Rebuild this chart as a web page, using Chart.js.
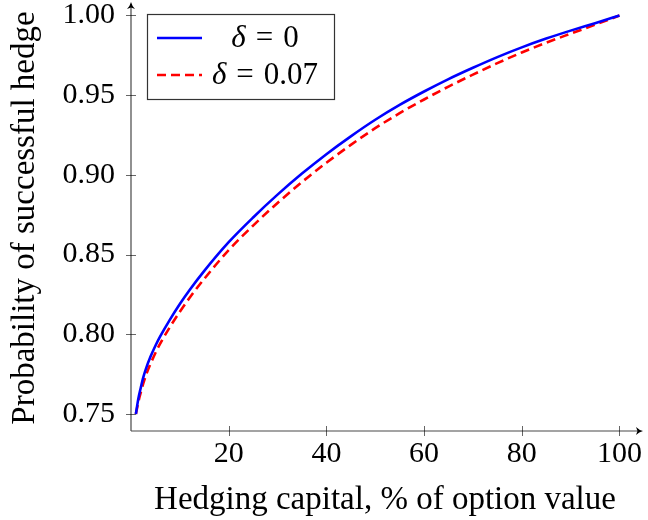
<!DOCTYPE html>
<html><head><meta charset="utf-8">
<script src="https://cdn.jsdelivr.net/npm/chart.js@4.4.1/dist/chart.umd.min.js"></script>
<style>html,body{margin:0;padding:0;background:#fff;}#wrap{width:648px;height:520px;}</style>
</head><body><div id="wrap"><canvas id="c" width="648" height="520"></canvas></div>
<script>
// ---- data ----
const capital = [1,1.5,2,2.5,3,4,5,6,8,10,12,15,20,25,30,35,40,45,50,55,60,65,70,75,80,85,90,95,100];
const probDelta0 = [0.7500,0.7595,0.7665,0.7728,0.7778,0.7860,0.7928,0.7988,0.8094,0.8190,0.8278,0.8398,0.8578,0.8733,0.8876,0.9008,0.9130,0.9242,0.9346,0.9439,0.9523,0.9601,0.9672,0.9739,0.9800,0.9855,0.9905,0.9952,1.0000];
const probDelta007 = [0.7500,0.7575,0.7635,0.7690,0.7738,0.7815,0.7883,0.7943,0.8047,0.8142,0.8229,0.8348,0.8528,0.8682,0.8824,0.8955,0.9076,0.9188,0.9293,0.9387,0.9473,0.9554,0.9629,0.9701,0.9768,0.9829,0.9886,0.9942,1.0000];
const xTicks = [20,40,60,80,100];
const yTicks = [0.75,0.80,0.85,0.90,0.95,1.00];
const legendDelta = ['0','0.07'];
const xTitle = 'Hedging capital, % of option value';
const yTitle = 'Probability of successful hedge';

const FONT = '"Liberation Serif", "DejaVu Serif", serif';
const AXIS = 'rgba(0,0,0,0.72)';

const pgfPlugin = {
  id: 'pgf',
  beforeDatasetsDraw(chart) {
    const {ctx, chartArea: a, scales: {x, y}} = chart;
    ctx.save();
    ctx.strokeStyle = AXIS; ctx.lineWidth = 1.2;
    ctx.beginPath();
    ctx.moveTo(a.left, a.bottom); ctx.lineTo(a.left, a.top - 1);
    ctx.moveTo(a.left, a.bottom); ctx.lineTo(a.right + 1, a.bottom);
    ctx.stroke();
    ctx.lineWidth = 1; ctx.strokeStyle = 'rgba(0,0,0,0.6)';
    ctx.beginPath();
    x.ticks.forEach(t => { const p = Math.round(x.getPixelForValue(t.value)) + 0.5; ctx.moveTo(p, a.bottom - 5); ctx.lineTo(p, a.bottom + 5); });
    y.ticks.forEach(t => { const p = Math.round(y.getPixelForValue(t.value)) + 0.5; ctx.moveTo(a.left - 5, p); ctx.lineTo(a.left + 5, p); });
    ctx.stroke();
    ctx.fillStyle = '#000';
    const tipY = a.top - 3, ax = a.left;
    ctx.beginPath();
    ctx.moveTo(ax, tipY);
    ctx.quadraticCurveTo(ax + 1, tipY + 4, ax + 4, tipY + 7);
    ctx.lineTo(ax, tipY + 5.5);
    ctx.lineTo(ax - 4, tipY + 7);
    ctx.quadraticCurveTo(ax - 1, tipY + 4, ax, tipY);
    ctx.fill();
    const tipX = a.right + 4, ay = a.bottom;
    ctx.beginPath();
    ctx.moveTo(tipX, ay);
    ctx.quadraticCurveTo(tipX - 4, ay - 1, tipX - 7, ay - 4);
    ctx.lineTo(tipX - 5.5, ay);
    ctx.lineTo(tipX - 7, ay + 4);
    ctx.quadraticCurveTo(tipX - 4, ay + 1, tipX, ay);
    ctx.fill();
    ctx.restore();
  },
  afterDatasetsDraw(chart) {
    const {ctx} = chart;
    const ds = chart.data.datasets;
    ctx.save();
    const bx = 147, by = 14, bw = 187, bh = 85;
    ctx.fillStyle = '#fff';
    ctx.fillRect(bx, by, bw, bh);
    ctx.strokeStyle = '#333'; ctx.lineWidth = 1.2;
    ctx.strokeRect(bx + 0.5, by + 0.5, bw, bh);
    const rows = [38, 75];
    ds.forEach((d, i) => {
      const ry = rows[i];
      ctx.strokeStyle = d.borderColor; ctx.lineWidth = d.borderWidth;
      ctx.setLineDash(d.borderDash || []);
      ctx.beginPath(); ctx.moveTo(157, ry); ctx.lineTo(202, ry); ctx.stroke();
      ctx.setLineDash([]);
      const fi = 'italic 31px ' + FONT, fr = '31px ' + FONT;
      ctx.font = fi; const wd = ctx.measureText('δ').width;
      ctx.font = fr; const we = ctx.measureText('=').width; const wv = ctx.measureText(legendDelta[i]).width;
      const gap = 10;
      const total = wd + gap + we + gap + wv;
      let tx = 265 - total / 2;
      ctx.fillStyle = '#000'; ctx.textBaseline = 'middle'; ctx.textAlign = 'left';
      ctx.font = fi; ctx.fillText('δ', tx, ry + 1); tx += wd + gap;
      ctx.font = fr; ctx.fillText('=', tx, ry + 1); tx += we + gap;
      ctx.fillText(legendDelta[i], tx, ry + 1);
    });
    ctx.restore();
  }
};

new Chart(document.getElementById('c'), {
  type: 'line',
  data: {
    datasets: [
      { label: 'δ = 0', data: capital.map((c, i) => ({x: c, y: probDelta0[i]})), borderColor: '#0000ff', borderWidth: 2.6, pointRadius: 0, cubicInterpolationMode: 'monotone', fill: false },
      { label: 'δ = 0.07', data: capital.map((c, i) => ({x: c, y: probDelta007[i]})), borderColor: '#ff0000', borderWidth: 2.6, borderDash: [9, 5], pointRadius: 0, cubicInterpolationMode: 'monotone', fill: false }
    ]
  },
  options: {
    responsive: false, animation: false, devicePixelRatio: 1,
    layout: {padding: {left: 0, top: 5, right: 9, bottom: 0}},
    plugins: {legend: {display: false}, tooltip: {enabled: false}},
    scales: {
      x: {
        type: 'linear', min: 0, max: 104,
        afterBuildTicks: s => { s.ticks = xTicks.map(v => ({value: v})); },
        afterFit: s => { s.height = 89; s.paddingLeft = 0; s.paddingRight = 0; },
        grid: {display: false, drawTicks: false}, border: {display: false},
        ticks: {font: {family: FONT, size: 30}, color: '#000', padding: 5, maxRotation: 0, autoSkip: false, callback: v => String(v)},
        title: {display: true, text: xTitle, font: {family: FONT, size: 33}, color: '#000', padding: {top: 0, bottom: 0}}
      },
      y: {
        type: 'linear', min: 0.73933, max: 1.00658,
        afterBuildTicks: s => { s.ticks = yTicks.map(v => ({value: v})); },
        afterFit: s => { s.width = 131; s.paddingTop = 0; s.paddingBottom = 0; },
        grid: {display: false, drawTicks: false}, border: {display: false},
        ticks: {font: {family: FONT, size: 30}, color: '#000', padding: 16, autoSkip: false, callback: v => Number(v).toFixed(2)},
        title: {display: true, text: yTitle, font: {family: FONT, size: 33}, color: '#000', padding: {top: 6, bottom: 0}}
      }
    }
  },
  plugins: [pgfPlugin]
});
</script></body></html>
